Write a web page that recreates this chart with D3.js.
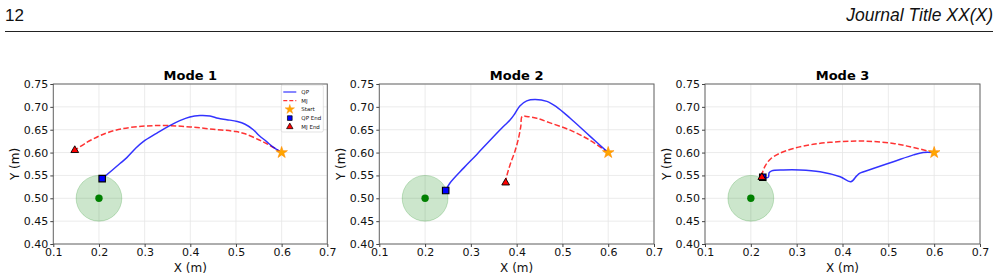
<!DOCTYPE html>
<html>
<head>
<meta charset="utf-8">
<script src="https://cdn.jsdelivr.net/npm/d3@7/dist/d3.min.js"></script>
<style>
html,body{margin:0;padding:0;background:#fff;}
svg{display:block;}
</style>
</head>
<body>
<svg id="c" width="999" height="279"></svg>
<script>
// ---- data ----
const panelTitles = ["Mode 1", "Mode 2", "Mode 3"];
const xTicks = [0.1, 0.2, 0.3, 0.4, 0.5, 0.6, 0.7];
const yTicks = [0.40, 0.45, 0.50, 0.55, 0.60, 0.65, 0.70, 0.75];
const legendLabels = ["QP", "MJ", "Start", "QP End", "MJ End"];
const obstacleCenter = [0.2, 0.5];
const obstacleRadius = 0.05;
const startPoint = [0.6, 0.6];

const qp1X = [0.6, 0.58, 0.567, 0.55, 0.538, 0.52, 0.503, 0.48, 0.461, 0.443, 0.421, 0.399, 0.377, 0.355, 0.326, 0.297, 0.282, 0.261, 0.246, 0.207];
const qp1Y = [0.6, 0.613, 0.624, 0.638, 0.650, 0.662, 0.668, 0.672, 0.675, 0.680, 0.681, 0.678, 0.670, 0.659, 0.642, 0.624, 0.611, 0.589, 0.576, 0.543];
const mj1X = [0.6, 0.57, 0.55, 0.52, 0.5, 0.45, 0.4, 0.35, 0.3, 0.25, 0.22, 0.2, 0.173, 0.147];
const mj1Y = [0.6, 0.618, 0.628, 0.641, 0.646, 0.651, 0.656, 0.659, 0.658, 0.652, 0.644, 0.636, 0.622, 0.605];

const qp2X = [0.6, 0.56, 0.517, 0.487, 0.466, 0.44, 0.422, 0.407, 0.396, 0.3855, 0.371, 0.342, 0.313, 0.284, 0.254, 0.245];
const qp2Y = [0.6, 0.636, 0.675, 0.700, 0.712, 0.716, 0.713, 0.702, 0.685, 0.671, 0.657, 0.627, 0.596, 0.566, 0.533, 0.517];
const mj2X = [0.6, 0.56, 0.517, 0.473, 0.444, 0.422, 0.412, 0.409, 0.404, 0.396, 0.3855, 0.378, 0.376];
const mj2Y = [0.6, 0.627, 0.649, 0.665, 0.675, 0.679, 0.679, 0.657, 0.631, 0.602, 0.573, 0.547, 0.534];

const qp3X = [0.6, 0.576, 0.555, 0.511, 0.467, 0.438, 0.431, 0.418, 0.395, 0.351, 0.307, 0.271, 0.2455, 0.24, 0.238, 0.226];
const qp3Y = [0.6, 0.600, 0.595, 0.580, 0.565, 0.555, 0.549, 0.536, 0.547, 0.558, 0.562, 0.562, 0.560, 0.556, 0.546, 0.546];
const mj3X = [0.6, 0.555, 0.511, 0.453, 0.395, 0.336, 0.293, 0.262, 0.243, 0.232, 0.226, 0.224];
const mj3Y = [0.6, 0.611, 0.620, 0.625, 0.624, 0.618, 0.609, 0.598, 0.586, 0.572, 0.558, 0.546];

const panels = [
  {qpX: qp1X, qpY: qp1Y, mjX: mj1X, mjY: mj1Y, left: 53.3, right: 327.3, legend: true},
  {qpX: qp2X, qpY: qp2Y, mjX: mj2X, mjY: mj2Y, left: 379.3, right: 654, legend: false},
  {qpX: qp3X, qpY: qp3Y, mjX: mj3X, mjY: mj3Y, left: 705, right: 980, legend: false}
];

// ---- drawing ----
const svg = d3.select("#c");
const plotTop = 84, plotBottom = 244;
const font = "DejaVu Sans, sans-serif";

// header
svg.append("text").attr("x", 5).attr("y", 21).attr("font-family", "Liberation Sans, Arial, sans-serif")
  .attr("font-size", 17).attr("fill", "#111").text("12");
svg.append("text").attr("x", 993).attr("y", 21).attr("text-anchor", "end")
  .attr("font-family", "Liberation Sans, Arial, sans-serif").attr("font-style", "italic")
  .attr("font-size", 17.5).attr("fill", "#111").text("Journal Title XX(X)");
svg.append("line").attr("x1", 5).attr("x2", 993).attr("y1", 31.5).attr("y2", 31.5)
  .attr("stroke", "#222").attr("stroke-width", 1);

const blue = "rgba(0,0,255,0.8)";
const red = "rgba(255,0,0,0.8)";

function markers(g, type, size, fill, cx, cy, stroke, sw) {
  g.append("path")
    .attr("d", d3.symbol().type(type).size(size)())
    .attr("transform", `translate(${cx},${cy})`)
    .attr("fill", fill).attr("stroke", stroke).attr("stroke-width", sw);
}

panels.forEach((p, i) => {
  const x = d3.scaleLinear().domain([0.1, 0.7]).range([p.left, p.right]);
  const y = d3.scaleLinear().domain([0.40, 0.75]).range([plotBottom, plotTop]);
  const g = svg.append("g");

  // grid
  g.selectAll(".gx").data(xTicks).join("line")
    .attr("x1", d => x(d)).attr("x2", d => x(d)).attr("y1", plotTop).attr("y2", plotBottom)
    .attr("stroke", "#e6e6e6").attr("stroke-width", 0.8);
  g.selectAll(".gy").data(yTicks).join("line")
    .attr("y1", d => y(d)).attr("y2", d => y(d)).attr("x1", p.left).attr("x2", p.right)
    .attr("stroke", "#e6e6e6").attr("stroke-width", 0.8);

  // obstacle
  const rpx = x(obstacleCenter[0] + obstacleRadius) - x(obstacleCenter[0]);
  g.append("ellipse").attr("cx", x(obstacleCenter[0])).attr("cy", y(obstacleCenter[1]))
    .attr("rx", rpx).attr("ry", y(obstacleCenter[1]) - y(obstacleCenter[1] + obstacleRadius))
    .attr("fill", "rgba(0,128,0,0.2)").attr("stroke", "rgba(0,128,0,0.2)").attr("stroke-width", 1);
  g.append("circle").attr("cx", x(obstacleCenter[0])).attr("cy", y(obstacleCenter[1]))
    .attr("r", 3.7).attr("fill", "#008000");

  // lines
  const line = d3.line().x(d => x(d[0])).y(d => y(d[1])).curve(d3.curveCatmullRom.alpha(0.5));
  const qp = p.qpX.map((v, k) => [v, p.qpY[k]]);
  const mj = p.mjX.map((v, k) => [v, p.mjY[k]]);
  g.append("path").attr("d", line(mj)).attr("fill", "none").attr("stroke", red)
    .attr("stroke-width", 1.5).attr("stroke-dasharray", "5.5,2.4");
  g.append("path").attr("d", line(qp)).attr("fill", "none").attr("stroke", blue)
    .attr("stroke-width", 1.5);

  // markers
  markers(g, d3.symbolStar, 42, "#ffa500", x(startPoint[0]), y(startPoint[1]), "#ff8c00", 0.6);
  const qe = qp[qp.length - 1], me = mj[mj.length - 1];
  markers(g, d3.symbolSquare, 42, "#0000ff", x(qe[0]), y(qe[1]), "#000", 1.1);
  markers(g, d3.symbolTriangle, 26, "#ff0000", x(me[0]), y(me[1]), "#000", 0.9);

  // frame
  g.append("rect").attr("x", p.left).attr("y", plotTop).attr("width", p.right - p.left)
    .attr("height", plotBottom - plotTop).attr("fill", "none").attr("stroke", "#666").attr("stroke-width", 1);

  // axes
  const xa = g.append("g").attr("transform", `translate(0,${plotBottom})`)
    .call(d3.axisBottom(x).tickValues(xTicks).tickFormat(d3.format(".1f")).tickSize(3).tickPadding(1.5));
  const ya = g.append("g").attr("transform", `translate(${p.left},0)`)
    .call(d3.axisLeft(y).tickValues(yTicks).tickFormat(d3.format(".2f")).tickSize(3).tickPadding(2));
  [xa, ya].forEach(a => {
    a.select(".domain").remove();
    a.selectAll("line").attr("stroke", "#444");
    a.selectAll("text").attr("font-family", font).attr("font-size", 11).attr("fill", "#111");
  });

  // titles and labels
  svg.append("text").attr("x", (p.left + p.right) / 2).attr("y", 79.5).attr("text-anchor", "middle")
    .attr("font-family", font).attr("font-weight", "bold").attr("font-size", 13).attr("fill", "#000")
    .text(panelTitles[i]);
  svg.append("text").attr("x", (p.left + p.right) / 2).attr("y", 271.5).attr("text-anchor", "middle")
    .attr("font-family", font).attr("font-size", 12).attr("fill", "#111").text("X (m)");
  svg.append("text").attr("transform", `translate(${p.left - 34},${(plotTop + plotBottom) / 2}) rotate(-90)`)
    .attr("text-anchor", "middle").attr("font-family", font).attr("font-size", 12).attr("fill", "#111")
    .text("Y (m)");

  // legend
  if (p.legend) {
    const lg = svg.append("g");
    const lx = p.right - 46, ly = 85;
    lg.append("rect").attr("x", lx).attr("y", ly).attr("width", 42).attr("height", 47).attr("rx", 1.5)
      .attr("fill", "rgba(255,255,255,0.85)").attr("stroke", "#d0d0d0").attr("stroke-width", 0.6);
    legendLabels.forEach((lab, k) => {
      const yy = ly + 7 + k * 8.7;
      if (k === 0) lg.append("line").attr("x1", lx + 2).attr("x2", lx + 15).attr("y1", yy).attr("y2", yy)
        .attr("stroke", blue).attr("stroke-width", 1.2);
      if (k === 1) lg.append("line").attr("x1", lx + 2).attr("x2", lx + 15).attr("y1", yy).attr("y2", yy)
        .attr("stroke", red).attr("stroke-width", 1.2).attr("stroke-dasharray", "4,2");
      if (k === 2) markers(lg, d3.symbolStar, 28, "#ffa500", lx + 8.5, yy, "#ff8c00", 0.4);
      if (k === 3) markers(lg, d3.symbolSquare, 22, "#0000ff", lx + 8.5, yy, "#000", 0.7);
      if (k === 4) markers(lg, d3.symbolTriangle, 18, "#ff0000", lx + 8.5, yy, "#000", 0.7);
      lg.append("text").attr("x", lx + 20).attr("y", yy + 2).attr("font-family", font)
        .attr("font-size", 5.5).attr("fill", "#111").text(lab);
    });
  }
});
</script>
</body>
</html>
